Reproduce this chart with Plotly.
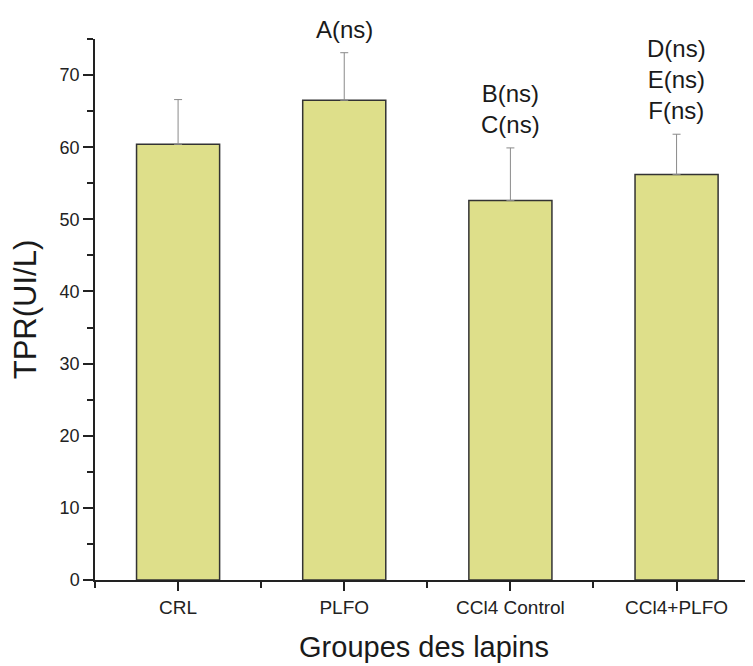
import plotly.graph_objects as go

categories = ["CRL", "PLFO", "CCl4 Control", "CCl4+PLFO"]
means = [60.4, 66.5, 52.6, 56.2]
sd_up = [6.2, 6.6, 7.3, 5.6]
sig_labels = ["", "A(ns)", "B(ns)<br>C(ns)", "D(ns)<br>E(ns)<br>F(ns)"]
y_ticks = [0, 10, 20, 30, 40, 50, 60, 70]

xpos = list(range(len(categories)))
FONT = "Liberation Sans, Arial, sans-serif"

fig = go.Figure()
fig.add_trace(go.Bar(
    x=xpos, y=means, width=0.5,
    marker=dict(color="rgb(222,223,138)", line=dict(color="#333333", width=1.5)),
    error_y=dict(type="data", array=sd_up, symmetric=False,
                 arrayminus=[0] * len(means), color="#8a8a8a",
                 thickness=1, width=4),
    showlegend=False,
))

for xi, m, s, lab in zip(xpos, means, sd_up, sig_labels):
    if lab:
        fig.add_annotation(x=xi, y=m + s, text=lab, showarrow=False,
                           yanchor="bottom", yshift=8,
                           font=dict(size=24, color="#1a1a1a", family=FONT))

fig.update_layout(
    width=745, height=658,
    margin=dict(l=87, r=0, t=31, b=86),
    plot_bgcolor="white", paper_bgcolor="white",
    font=dict(family=FONT, color="#222222"),
    bargap=0.5,
)
fig.update_xaxes(
    range=[-0.5, 3.46], tickvals=xpos, ticktext=categories,
    showline=True, linecolor="#222222", linewidth=1.5,
    ticks="outside", ticklen=9, tickwidth=1.5, tickcolor="#222222",
    tickfont=dict(size=19, color="#222222"),
    minor=dict(tick0=0.5, dtick=1, ticks="outside", ticklen=6,
               tickwidth=1.5, tickcolor="#222222"),
    showgrid=False, zeroline=False, automargin=False,
    title=dict(text="Groupes des lapins", font=dict(size=29, color="#1a1a1a"),
               standoff=20),
)
fig.update_yaxes(
    range=[0, 75], tickvals=y_ticks,
    showline=True, linecolor="#222222", linewidth=1.5,
    ticks="outside", ticklen=10, tickwidth=1.5, tickcolor="#222222",
    tickfont=dict(size=18, color="#222222"),
    minor=dict(dtick=5, ticks="outside", ticklen=6, tickwidth=1.5,
               tickcolor="#222222"),
    showgrid=False, zeroline=False, automargin=False,
    title=dict(text="TPR(UI/L)", font=dict(size=31, color="#1a1a1a"),
               standoff=14),
)

fig.write_html("out.html")
